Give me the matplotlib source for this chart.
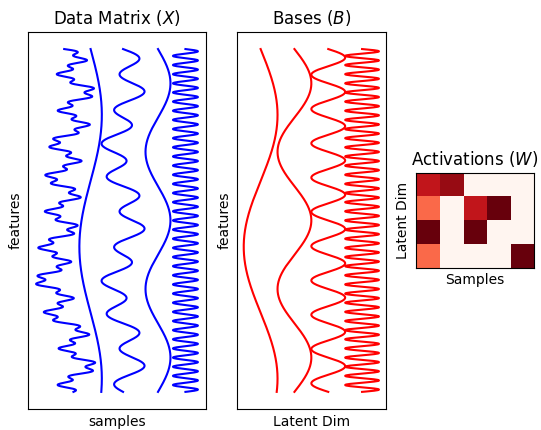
import numpy as np
import matplotlib
matplotlib.use("Agg")
import matplotlib.pyplot as plt

# Basis sinusoids: number of cycles over the feature range
BASIS_CYCLES = [1.3, 2.5, 10.0, 37.5]

# Activations W (latent dim x samples)
W = np.array([
    [0.78, 0.90, 0.00, 0.00, 0.00],
    [0.50, 0.00, 0.78, 1.00, 0.00],
    [1.00, 0.00, 1.00, 0.00, 0.00],
    [0.50, 0.00, 0.00, 0.00, 1.00],
])

# horizontal centre of each sample curve in the data panel (layout only)
X_CENTERS = [0.0, 2.0, 4.6, 7.4, 9.6]

n_feat = 1200
s = np.linspace(0, 1, n_feat)
B = np.column_stack([np.sin(2 * np.pi * c * s) for c in BASIS_CYCLES])
X = B @ W

fig = plt.figure(figsize=(5.41, 4.30), dpi=100)
ax1 = fig.add_axes([0.0518, 0.0488, 0.329, 0.877])
ax2 = fig.add_axes([0.438, 0.0488, 0.275, 0.877])
ax3 = fig.add_axes([0.767, 0.377, 0.222, 0.221])

for i in range(X.shape[1]):
    x = X[:, i]
    mid = 0.5 * (x.max() + x.min())
    ax1.plot(x - mid + X_CENTERS[i], s, color="b", lw=1.5)
ax1.invert_yaxis()
ax1.set_xticks([])
ax1.set_yticks([])
ax1.set_title("Data Matrix ($X$)", fontsize=12)
ax1.set_xlabel("samples")
ax1.set_ylabel("features")

off = 0.0
for k in range(B.shape[1]):
    b = B[:, k]
    if k > 0:
        off += 0.5 * (B[:, k - 1].max() - B[:, k - 1].min()) + 0.5 * (b.max() - b.min())
    ax2.plot(b + off, s, color="r", lw=1.5)
ax2.invert_yaxis()
ax2.set_xticks([])
ax2.set_yticks([])
ax2.set_title("Bases ($B$)", fontsize=12)
ax2.set_xlabel("Latent Dim")
ax2.set_ylabel("features")

ax3.imshow(W, cmap="Reds", vmin=0, vmax=1, interpolation="nearest")
ax3.set_xticks([])
ax3.set_yticks([])
ax3.set_title("Activations ($W$)", fontsize=12)
ax3.set_xlabel("Samples")
ax3.set_ylabel("Latent Dim")

fig.savefig("out.png", dpi=100)
